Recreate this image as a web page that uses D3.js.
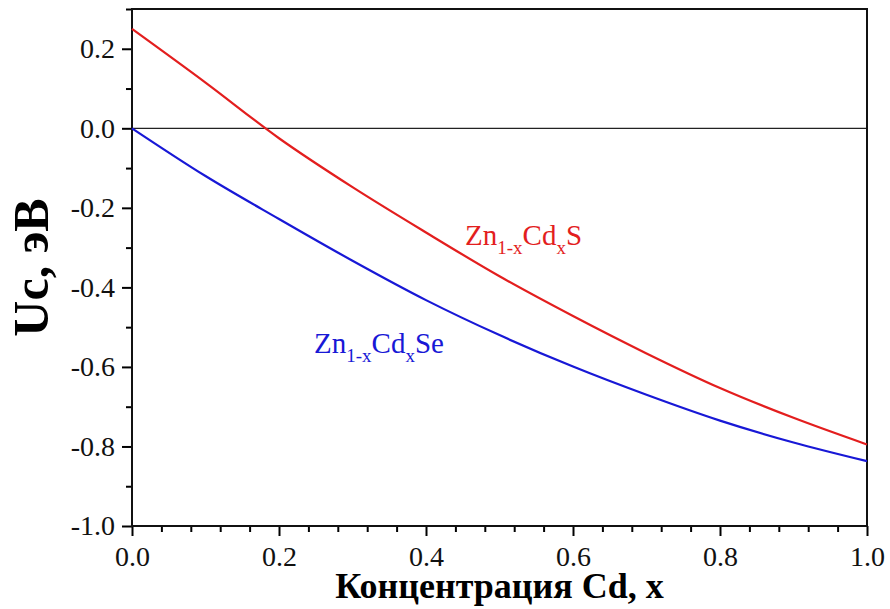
<!DOCTYPE html>
<html>
<head>
<meta charset="utf-8">
<script src="https://cdn.jsdelivr.net/npm/d3@7"></script>
<style>
  body { margin: 0; background: #fff; }
  svg text { font-family: "Liberation Serif", "DejaVu Serif", serif; }
</style>
</head>
<body>
<div id="chart"></div>
<script>
// Cd concentration x
const xValues = [0, 0.1, 0.2, 0.3, 0.4, 0.5, 0.6, 0.7, 0.8, 0.9, 1.0];
// Uc (eV) for Zn(1-x)Cd(x)S
const sulfideValues = [0.25, 0.115, -0.025, -0.148, -0.262, -0.372, -0.472, -0.566, -0.653, -0.728, -0.795];
// Uc (eV) for Zn(1-x)Cd(x)Se
const selenideValues = [0, -0.12, -0.228, -0.333, -0.432, -0.52, -0.599, -0.670, -0.735, -0.790, -0.837];

const xTicks = [0, 0.2, 0.4, 0.6, 0.8, 1.0];
const yTicks = [-1.0, -0.8, -0.6, -0.4, -0.2, 0.0, 0.2];

const serif = "'Liberation Serif', 'DejaVu Serif', serif";
const width = 890, height = 609;
const margin = { top: 9, right: 23, bottom: 83, left: 132 };
const innerWidth = width - margin.left - margin.right;
const innerHeight = height - margin.top - margin.bottom;

const svg = d3.select("#chart").append("svg")
  .attr("width", width)
  .attr("height", height)
  .attr("font-family", serif);

const plot = svg.append("g").attr("transform", `translate(${margin.left},${margin.top})`);

const x = d3.scaleLinear().domain([0, 1]).range([0, innerWidth]);
const y = d3.scaleLinear().domain([-1, 0.3]).range([innerHeight, 0]);

// plain hyphen as minus, like the original
const fmt = d => d3.format(".1f")(d).replace("\u2212", "-");

// minor ticks
const xMinor = d3.range(0, 1.0001, 0.04).filter(v => !xTicks.some(t => Math.abs(t - v) < 1e-6));
const yMinor = d3.range(-1, 0.30001, 0.1).filter(v => !yTicks.some(t => Math.abs(t - v) < 1e-6));

plot.append("g")
  .attr("transform", `translate(0,${innerHeight})`)
  .call(d3.axisBottom(x).tickValues(xMinor).tickSize(6).tickFormat(""))
  .call(g => g.select(".domain").remove())
  .call(g => g.selectAll("line").attr("stroke-width", 2));

plot.append("g")
  .call(d3.axisLeft(y).tickValues(yMinor).tickSize(6).tickFormat(""))
  .call(g => g.select(".domain").remove())
  .call(g => g.selectAll("line").attr("stroke-width", 2));

const xAxis = plot.append("g")
  .attr("transform", `translate(0,${innerHeight})`)
  .call(d3.axisBottom(x).tickValues(xTicks).tickSize(10).tickPadding(10).tickFormat(fmt));
xAxis.attr("font-family", serif).attr("font-size", 28);
xAxis.select(".domain").remove();
xAxis.selectAll("line").attr("stroke-width", 2);
xAxis.selectAll("text").attr("fill", "#111");

const yAxis = plot.append("g")
  .call(d3.axisLeft(y).tickValues(yTicks).tickSize(10).tickPadding(7).tickFormat(fmt));
yAxis.attr("font-family", serif).attr("font-size", 28);
yAxis.select(".domain").remove();
yAxis.selectAll("line").attr("stroke-width", 2);
yAxis.selectAll("text").attr("fill", "#111");

// zero line
plot.append("line")
  .attr("x1", 0).attr("x2", innerWidth)
  .attr("y1", y(0)).attr("y2", y(0))
  .attr("stroke", "#222").attr("stroke-width", 1.2);

// frame
plot.append("rect")
  .attr("x", 0).attr("y", 0)
  .attr("width", innerWidth).attr("height", innerHeight)
  .attr("fill", "none").attr("stroke", "#111").attr("stroke-width", 2);

const line = d3.line()
  .x((d, i) => x(xValues[i]))
  .y(d => y(d))
  .curve(d3.curveMonotoneX);

plot.append("path")
  .datum(sulfideValues)
  .attr("d", line)
  .attr("fill", "none")
  .attr("stroke", "#e31e1e")
  .attr("stroke-width", 2.2);

plot.append("path")
  .datum(selenideValues)
  .attr("d", line)
  .attr("fill", "none")
  .attr("stroke", "#1818d6")
  .attr("stroke-width", 2.2);

// series labels with subscripts
function formulaLabel(px, py, color, tail) {
  const t = svg.append("text")
    .attr("x", px).attr("y", py)
    .attr("fill", color)
    .attr("font-size", 29);
  t.append("tspan").text("Zn");
  t.append("tspan").attr("font-size", 19).attr("dy", 9).text("1-x");
  t.append("tspan").attr("dy", -9).text("Cd");
  t.append("tspan").attr("font-size", 19).attr("dy", 9).text("x");
  t.append("tspan").attr("dy", -9).text(tail);
}
formulaLabel(465, 245, "#e31e1e", "S");
formulaLabel(314, 353, "#1818d6", "Se");

// axis titles
svg.append("text")
  .attr("x", margin.left + innerWidth / 2)
  .attr("y", 598)
  .attr("text-anchor", "middle")
  .attr("font-size", 36)
  .attr("font-weight", "bold")
  .text("Концентрация Cd, x");

svg.append("text")
  .attr("transform", `translate(48,${margin.top + innerHeight / 2}) rotate(-90)`)
  .attr("text-anchor", "middle")
  .attr("font-size", 50)
  .attr("font-weight", "bold")
  .text("Uc, эВ");
</script>
</body>
</html>
